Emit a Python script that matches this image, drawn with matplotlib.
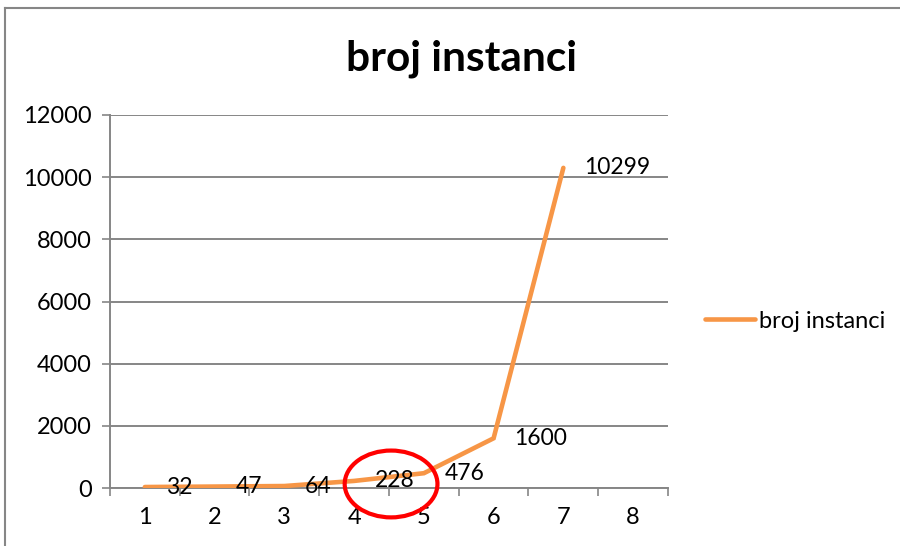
import matplotlib.pyplot as plt
from matplotlib.patches import Ellipse
from matplotlib.lines import Line2D

categories = [1, 2, 3, 4, 5, 6, 7, 8]
x_vals = [1, 2, 3, 4, 5, 6, 7]
counts = [32, 47, 64, 228, 476, 1600, 10299]
y_ticks = [0, 2000, 4000, 6000, 8000, 10000, 12000]
series_name = "broj instanci"

plt.rcParams['font.family'] = ['Lato', 'DejaVu Sans']
orange = '#F79646'
grid_gray = '#868686'

fig = plt.figure(figsize=(9, 5.46), dpi=100)
ax = fig.add_axes([0.1222, 0.1062, 0.62, 0.6832])

line, = ax.plot(x_vals, counts, color=orange, lw=3.3, solid_capstyle='round',
                solid_joinstyle='miter', label=series_name, zorder=3)

for x, y in zip(x_vals, counts):
    ax.annotate(str(y), (x, y), xytext=(15, 0), textcoords='offset points',
                ha='left', va='center', fontsize=16.5, color='black', zorder=4)

ax.set_xlim(0.5, 8.5)
ax.set_ylim(0, 12000)
ax.set_yticks(y_ticks)
ax.set_yticklabels([str(v) for v in y_ticks], fontsize=17)
ax.set_xticks(categories)
ax.set_xticklabels([str(c) for c in categories], fontsize=17)
ax.set_xticks([c + 0.5 for c in [0] + categories], minor=True)
ax.tick_params(axis='x', which='major', length=0, pad=14)
ax.tick_params(axis='x', which='minor', length=6, width=1.2, color=grid_gray, direction='out')
ax.tick_params(axis='y', length=6, width=1.2, color=grid_gray, direction='out', pad=7)

ax.grid(axis='y', color=grid_gray, lw=1.4)
ax.set_axisbelow(True)
for side in ['top', 'right']:
    ax.spines[side].set_visible(False)
for side in ['left', 'bottom']:
    ax.spines[side].set_color(grid_gray)
    ax.spines[side].set_linewidth(1.4)

# red circle around the 4-5 section
ax.add_patch(Ellipse((4.53, 130), 1.33, 2150, fill=False, ec='#FF0000', lw=3,
                     clip_on=False, zorder=5))

fig.text(0.513, 0.892, series_name, ha='center', va='center', fontsize=30.5,
         fontweight='bold')

fig.legend(handles=[line], loc='center left', bbox_to_anchor=(0.783, 0.412),
           frameon=False, fontsize=17, handlelength=2.15, handletextpad=0.15,
           borderaxespad=0, borderpad=0)

# outer chart border (cropped)
fig.add_artist(Line2D([0.006, 1.0], [0.985, 0.985], color=grid_gray, lw=1.5))
fig.add_artist(Line2D([0.006, 0.006], [0.0, 0.985], color=grid_gray, lw=1.5))

fig.savefig('out.png', dpi=100)
